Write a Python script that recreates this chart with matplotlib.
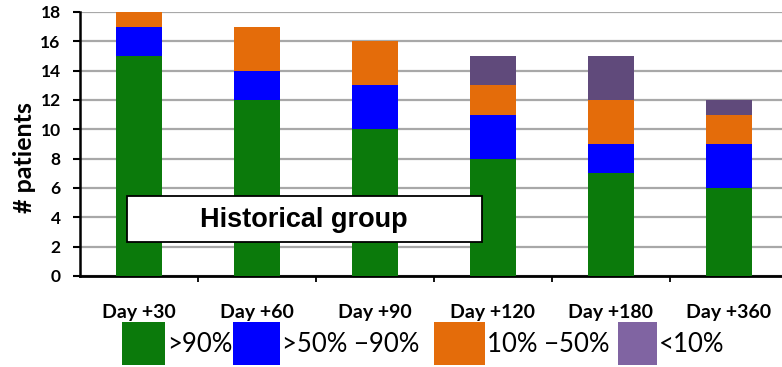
import matplotlib
matplotlib.use("Agg")
import matplotlib.pyplot as plt
from matplotlib.patches import Rectangle
import numpy as np

# Patients per response category at each follow-up time point
days = ["Day +30", "Day +60", "Day +90", "Day +120", "Day +180", "Day +360"]
over_90 = [15, 12, 10, 8, 7, 6]
from_50_to_90 = [2, 2, 3, 3, 2, 3]
from_10_to_50 = [1, 3, 3, 2, 3, 2]
under_10 = [0, 0, 0, 2, 3, 1]

series_labels = [">90%", ">50% \u221290%", "10% \u221250%", "<10%"]
bar_colors = ["#0b7a0b", "#0000ff", "#e46c0a", "#604a7b"]
legend_colors = ["#0b7a0b", "#0000ff", "#e46c0a", "#8064a2"]
y_ticks = list(range(0, 19, 2))

W, H = 782, 367
fig = plt.figure(figsize=(W / 100, H / 100), dpi=100)
fig.patch.set_facecolor("white")


def fx(px):
    return px / W


def fy(py):
    return 1 - py / H


# axes: left spine at x=80, zero line at y=276, top (18) at y=12
ax_left, ax_bottom, ax_top = 80, 276, 12
cat_w = 118
ax = fig.add_axes([fx(ax_left), fy(ax_bottom), 6 * cat_w / W, (ax_bottom - ax_top) / H])

x = np.arange(len(days))
bottom = np.zeros(len(days))
for vals, col in zip([over_90, from_50_to_90, from_10_to_50, under_10], bar_colors):
    ax.bar(x, vals, width=0.39, bottom=bottom, color=col, edgecolor="none", zorder=3)
    bottom += np.array(vals)

ax.set_xlim(-0.5, len(days) - 0.5)
ax.set_ylim(0, 18)
ax.set_yticks(y_ticks)
ax.yaxis.grid(True, color="#a8a8a8", linewidth=1.6, zorder=0)
ax.set_axisbelow(True)

label_font = dict(family=["Lato", "DejaVu Sans"], weight="bold")
ax.set_yticklabels([str(v) for v in y_ticks], fontsize=12.5, **label_font)
ax.tick_params(axis="y", length=5, width=1.5, pad=9, colors="black")

# category labels centred under bars, tick marks on category boundaries
ax.set_xticks(x)
ax.set_xticklabels(days, fontsize=14, **label_font)
ax.tick_params(axis="x", which="major", length=0, pad=20)
ax.set_xticks(np.arange(0.5, len(days) - 0.5, 1.0), minor=True)
ax.tick_params(axis="x", which="minor", length=4, width=1.3, direction="out", color="black")

for s in ["top", "right"]:
    ax.spines[s].set_visible(False)
ax.spines["left"].set_linewidth(1.8)
ax.spines["bottom"].set_linewidth(2.0)

fig.text(fx(24), fy(158), "# patients", rotation=90, ha="center", va="center",
         fontsize=18, **label_font)

# group caption box
fig.patches.append(Rectangle((fx(127), fy(242)), fx(482) - fx(127), fy(196) - fy(242),
                             transform=fig.transFigure, facecolor="white",
                             edgecolor="black", linewidth=1.3, zorder=5))
fig.text(fx(304), fy(220), "Historical group", ha="center", va="center",
         fontsize=19.5, family=["Liberation Sans", "DejaVu Sans"], weight="bold", zorder=6)

# legend along the bottom
legend_items = [(122, 165, 167), (233, 280, 282), (434, 485, 487), (618, 657, 659)]
for (x0, x1, tx), col, lab in zip(legend_items, legend_colors, series_labels):
    fig.patches.append(Rectangle((fx(x0), fy(365)), fx(x1) - fx(x0), fy(322) - fy(365),
                                 transform=fig.transFigure, facecolor=col,
                                 edgecolor="none"))
    fig.text(fx(tx), fy(344), lab, ha="left", va="center", fontsize=18.5,
             family=["Lato", "DejaVu Sans"])

fig.savefig("out.png", dpi=100, facecolor="white")
